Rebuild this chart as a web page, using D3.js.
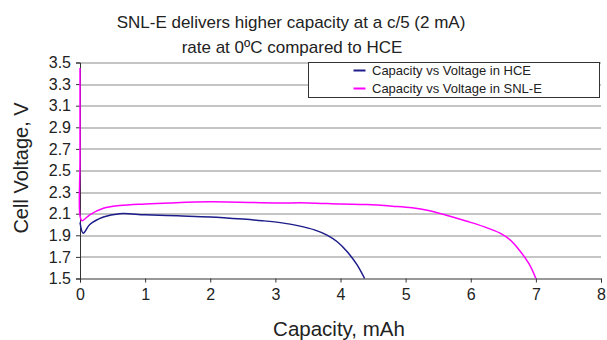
<!DOCTYPE html>
<html>
<head>
<meta charset="utf-8">
<script src="https://cdn.jsdelivr.net/npm/d3@7"></script>
<style>
  body { margin: 0; background: #fff; }
  text { font-family: "Liberation Sans", Arial, sans-serif; fill: #222; }
</style>
</head>
<body>
<div id="chart"></div>
<script>
// Data
var hceCapacity = [0, 0.05, 0.15, 0.36, 0.61, 1.0, 1.5, 2.0, 2.5, 2.8, 3.1, 3.38, 3.6, 3.8, 3.95, 4.1, 4.25, 4.37];
var hceVoltage  = [2.02, 1.92, 2.0, 2.07, 2.10, 2.09, 2.08, 2.07, 2.05, 2.035, 2.015, 1.985, 1.95, 1.90, 1.84, 1.75, 1.63, 1.5];

var snleCapacity = [0, 0, 0, 0.03, 0.15, 0.36, 0.61, 1.0, 1.38, 2.0, 3.0, 3.5, 4.0, 4.4, 4.8, 5.1, 5.35, 5.6, 5.94, 6.2, 6.45, 6.6, 6.75, 6.9, 7.0];
var snleVoltage  = [3.45, 2.6, 2.08, 2.035, 2.09, 2.15, 2.175, 2.19, 2.20, 2.21, 2.20, 2.20, 2.19, 2.185, 2.17, 2.155, 2.13, 2.09, 2.03, 1.98, 1.92, 1.86, 1.76, 1.63, 1.5];

var xTicks = [0, 1, 2, 3, 4, 5, 6, 7, 8];
var yTicks = [1.5, 1.7, 1.9, 2.1, 2.3, 2.5, 2.7, 2.9, 3.1, 3.3, 3.5];

var seriesNames = ["Capacity vs Voltage in HCE", "Capacity vs Voltage in SNL-E"];
var seriesColors = ["#1c1c8a", "#ff00ff"];

// Set the dimensions and margins
var margin = {top: 62.5, right: 6, bottom: 61.5, left: 80},
    width = 607 - margin.left - margin.right,
    height = 340 - margin.top - margin.bottom;

var root = d3.select("#chart")
  .append("svg")
    .attr("width", 607)
    .attr("height", 340);

var svg = root.append("g")
    .attr("transform", "translate(" + margin.left + "," + margin.top + ")");

var x = d3.scaleLinear().domain([0, 8]).range([0, width]);
var y = d3.scaleLinear().domain([1.5, 3.5]).range([height, 0]);

// Horizontal gridlines
svg.selectAll("line.grid")
  .data(yTicks.slice(1))
  .enter()
  .append("line")
    .attr("class", "grid")
    .attr("x1", 0)
    .attr("x2", width)
    .attr("y1", function(d) { return Math.round(y(d)) + 0.5; })
    .attr("y2", function(d) { return Math.round(y(d)) + 0.5; })
    .attr("stroke", "#8a8a8a")
    .attr("stroke-width", 1);

// X axis
var xAxis = svg.append("g")
  .attr("transform", "translate(0," + height + ")")
  .call(d3.axisBottom(x).tickValues(xTicks).tickFormat(d3.format("d")).tickSizeOuter(0).tickSize(4));
xAxis.select(".domain").attr("stroke", "#333");
xAxis.selectAll("line").attr("stroke", "#333");
xAxis.selectAll("text")
  .attr("dy", "0.9em")
  .style("font-size", "16px")
  .style("font-family", "Liberation Sans, Arial, sans-serif")
  .attr("fill", "#222");

// Y axis
var yAxis = svg.append("g")
  .call(d3.axisLeft(y).tickValues(yTicks).tickFormat(d3.format(".1f")).tickSizeOuter(0).tickSize(4));
yAxis.select(".domain").attr("stroke", "#333");
yAxis.selectAll("line").attr("stroke", "#333");
yAxis.selectAll("text")
  .attr("x", -9)
  .style("font-size", "16px")
  .style("font-family", "Liberation Sans, Arial, sans-serif")
  .attr("fill", "#222");

// Lines
var line = d3.line()
  .x(function(d) { return x(d[0]); })
  .y(function(d) { return y(d[1]); })
  .curve(d3.curveCatmullRom.alpha(0.5));

var series = [
  d3.zip(hceCapacity, hceVoltage),
  d3.zip(snleCapacity, snleVoltage)
];

svg.selectAll("path.series")
  .data(series)
  .enter()
  .append("path")
    .attr("class", "series")
    .attr("d", line)
    .attr("fill", "none")
    .attr("stroke", function(d, i) { return seriesColors[i]; })
    .attr("stroke-width", 1.5);

// Legend
var legend = root.append("g").attr("transform", "translate(308.5,62.5)");
legend.append("rect")
  .attr("width", 291)
  .attr("height", 35)
  .attr("fill", "#fff")
  .attr("stroke", "#333");
seriesNames.forEach(function(name, i) {
  legend.append("line")
    .attr("x1", 45).attr("x2", 57)
    .attr("y1", 8 + i * 18).attr("y2", 8 + i * 18)
    .attr("stroke", seriesColors[i])
    .attr("stroke-width", 2);
  legend.append("text")
    .attr("x", 63.5)
    .attr("y", 12.5 + i * 18)
    .style("font-size", "13px")
    .text(name);
});

// Title
root.append("text")
  .attr("x", 291).attr("y", 28)
  .attr("text-anchor", "middle")
  .style("font-size", "17px")
  .text("SNL-E delivers higher capacity at a c/5 (2 mA)");
root.append("text")
  .attr("x", 292).attr("y", 53)
  .attr("text-anchor", "middle")
  .style("font-size", "17px")
  .text("rate at 0\u00BAC compared to HCE");

// Axis labels
root.append("text")
  .attr("x", 339).attr("y", 336)
  .attr("text-anchor", "middle")
  .style("font-size", "20.5px")
  .text("Capacity, mAh");
root.append("text")
  .attr("transform", "translate(28,168) rotate(-90)")
  .attr("text-anchor", "middle")
  .style("font-size", "20px")
  .text("Cell Voltage, V");
</script>
</body>
</html>
